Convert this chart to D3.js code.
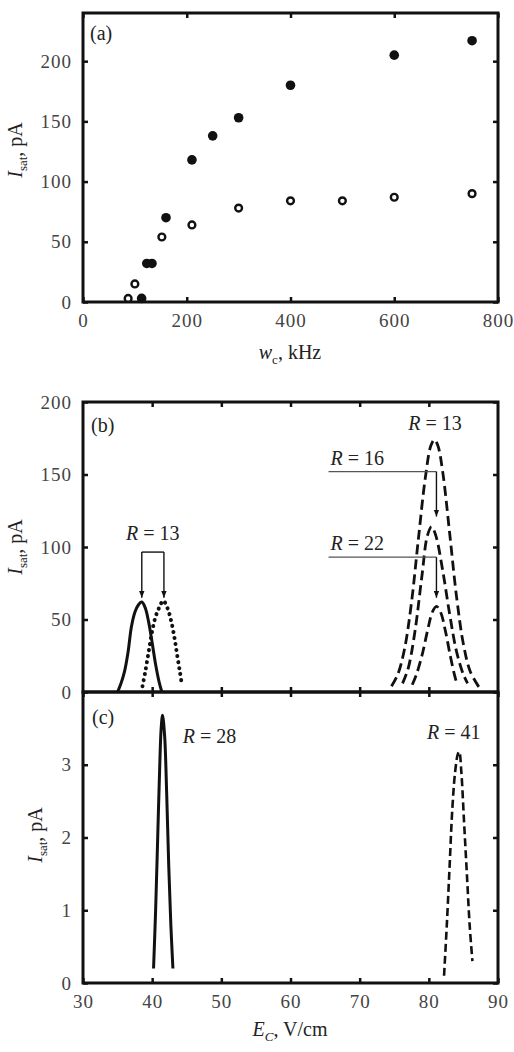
<!DOCTYPE html>
<html>
<head>
<meta charset="utf-8">
<script src="https://cdn.jsdelivr.net/npm/d3@7"></script>
<style>
  body { margin: 0; background: #fff; }
  svg text { font-family: "Liberation Serif", "Times New Roman", serif !important; fill: #222; }
</style>
</head>
<body>
<div id="chart"></div>
<script>
// panel (a): saturation current vs frequency
const freqFilled = [113, 123, 133, 160, 210, 250, 300, 400, 600, 750];
const isatFilled = [3, 32, 32, 70, 118, 138, 153, 180, 205, 217];
const freqOpen = [87, 100, 152, 210, 300, 400, 500, 600, 750];
const isatOpen = [3, 15, 54, 64, 78, 84, 84, 87, 90];
const aTicksX = [0, 200, 400, 600, 800];
const aTicksY = [0, 50, 100, 150, 200];

// panel (b): peaks vs field, pA
const solid13E = [35, 35.5, 36, 36.5, 37, 37.5, 38, 38.5, 39, 39.5, 40, 40.5, 41, 41.4];
const solid13I = [0, 6, 14, 27, 45, 55, 60, 62, 58, 48, 34, 19, 7, 0];
const dot13E = [38.6, 39, 39.5, 40, 40.5, 41, 41.6, 42.2, 42.7, 43.2, 43.6, 44, 44.3];
const dot13I = [4, 14, 28, 42, 52, 58, 63, 58, 50, 38, 26, 14, 5];
const dash13E = [74.6, 75.5, 76.5, 77.5, 78.5, 79.5, 80.3, 80.8, 81.3, 82, 83, 84, 85, 86, 87.3];
const dash13I = [4, 12, 30, 62, 106, 148, 170, 174, 170, 152, 110, 66, 33, 14, 3];
const dash16E = [76.2, 77, 78, 79, 79.8, 80.4, 81, 82, 83, 84, 85, 85.6];
const dash16I = [6, 16, 42, 80, 108, 114, 108, 84, 54, 28, 12, 6];
const dash22E = [77.6, 78.2, 79, 79.8, 80.5, 81.1, 81.7, 82.4, 83.1, 83.7, 84.1];
const dash22I = [5, 12, 25, 42, 55, 59, 55, 42, 25, 12, 5];
const bTicksY = [0, 50, 100, 150, 200];

// panel (c)
const solid28E = [40.2, 40.5, 40.8, 41.1, 41.3, 41.5, 41.8, 42.1, 42.4, 42.7, 43];
const solid28I = [0.2, 1.0, 2.0, 3.0, 3.5, 3.68, 3.4, 2.6, 1.6, 0.8, 0.2];
const dash41E = [82.2, 82.6, 83, 83.4, 83.8, 84.2, 84.4, 84.7, 85.1, 85.5, 85.9, 86.3];
const dash41I = [0.1, 0.8, 1.6, 2.4, 2.9, 3.15, 3.18, 2.9, 2.2, 1.5, 0.8, 0.3];
const cTicksY = [0, 1, 2, 3];
const eTicks = [30, 40, 50, 60, 70, 80, 90];

const W = 514, H = 1052;
const svg = d3.select("#chart").append("svg").attr("width", W).attr("height", H);

svg.append("defs").append("marker")
    .attr("id", "arr")
    .attr("viewBox", "0 0 10 10")
    .attr("refX", 10).attr("refY", 5)
    .attr("markerWidth", 7).attr("markerHeight", 8)
    .attr("markerUnits", "userSpaceOnUse")
    .attr("orient", "auto")
    .append("path").attr("d", "M0,1 L10,5 L0,9 Z").attr("fill", "#111");

const left = 83, right = 498;
const FS = 19;

function frame(x, y, xt, yt, opts) {
    const g = svg.append("g");
    const [y0, y1] = y.range();
    g.append("g").attr("transform", `translate(0,${y0})`)
        .call(d3.axisBottom(x).tickValues(xt).tickSize(-5).tickPadding(12)
            .tickFormat(opts.xLabels ? d3.format("d") : ""));
    g.append("g").attr("transform", `translate(0,${y1})`)
        .call(d3.axisTop(x).tickValues(xt).tickSize(-5).tickFormat(""));
    g.append("g").attr("transform", `translate(${left},0)`)
        .call(d3.axisLeft(y).tickValues(yt).tickSize(-5).tickPadding(11).tickFormat(d3.format("d")));
    g.append("g").attr("transform", `translate(${right},0)`)
        .call(d3.axisRight(y).tickValues(yt).tickSize(-5).tickFormat(""));
    g.selectAll(".domain").remove();
    g.selectAll(".tick line").attr("stroke", "#111").attr("stroke-width", 2.5);
    g.selectAll(".tick text").attr("font-size", FS).attr("letter-spacing", 1).style("fill", "#444");
    g.append("rect")
        .attr("x", left).attr("y", y1)
        .attr("width", right - left).attr("height", y0 - y1)
        .attr("fill", "none").attr("stroke", "#111").attr("stroke-width", 3);
    return g;
}

function yLabel(cx, cy) {
    const t = svg.append("text")
        .attr("transform", `translate(${cx},${cy}) rotate(-90)`)
        .attr("text-anchor", "middle").attr("font-size", 20);
    t.append("tspan").attr("font-style", "italic").text("I");
    t.append("tspan").attr("font-size", 13).attr("dy", 5).text("sat");
    t.append("tspan").attr("dy", -5).text(", pA");
}

function rLabel(x, y, val, anchor) {
    const t = svg.append("text").attr("x", x).attr("y", y)
        .attr("text-anchor", anchor || "middle").attr("font-size", 20);
    t.append("tspan").attr("font-style", "italic").text("R");
    t.append("tspan").text(" = " + val);
}

// ---------- panel (a)
const xa = d3.scaleLinear().domain([0, 800]).range([left, right]);
const ya = d3.scaleLinear().domain([0, 240]).range([302, 13]);
frame(xa, ya, aTicksX, aTicksY, { xLabels: true });

svg.append("g").selectAll("circle")
    .data(d3.zip(freqOpen, isatOpen)).join("circle")
    .attr("cx", d => xa(d[0])).attr("cy", d => ya(d[1]))
    .attr("r", 3.4).attr("fill", "#fff").attr("stroke", "#111").attr("stroke-width", 2.4);
svg.append("g").selectAll("circle")
    .data(d3.zip(freqFilled, isatFilled)).join("circle")
    .attr("cx", d => xa(d[0])).attr("cy", d => ya(d[1]))
    .attr("r", 4.8).attr("fill", "#111");

svg.append("text").attr("x", 90).attr("y", 40).attr("font-size", 20).text("(a)");
yLabel(22, 150);
const xla = svg.append("text").attr("x", 290).attr("y", 359)
    .attr("text-anchor", "middle").attr("font-size", 20);
xla.append("tspan").attr("font-style", "italic").text("w");
xla.append("tspan").attr("font-size", 13).attr("dy", 5).text("c");
xla.append("tspan").attr("dy", -5).text(", kHz");

// ---------- panel (b)
const xb = d3.scaleLinear().domain([30, 90]).range([left, right]);
const yb = d3.scaleLinear().domain([0, 200]).range([692, 402]);
frame(xb, yb, eTicks.slice(1, -1), bTicksY, { xLabels: false });

const lineB = d3.line().x(d => xb(d[0])).y(d => yb(d[1])).curve(d3.curveCatmullRom);
const pb = svg.append("g").attr("fill", "none").attr("stroke", "#111");
pb.append("path").datum(d3.zip(solid13E, solid13I))
    .attr("d", lineB).attr("stroke-width", 3);
pb.append("path").datum(d3.zip(dot13E, dot13I))
    .attr("d", lineB).attr("stroke-width", 4)
    .attr("stroke-linecap", "round").attr("stroke-dasharray", "0.1 6");
[[dash13E, dash13I], [dash16E, dash16I], [dash22E, dash22I]].forEach(s => {
    pb.append("path").datum(d3.zip(s[0], s[1]))
        .attr("d", lineB).attr("stroke-width", 2.8).attr("stroke-dasharray", "10 5");
});

svg.append("text").attr("x", 91).attr("y", 432).attr("font-size", 20).text("(b)");
yLabel(22, 547);

// R = 13 bracket on the left pair
const brY = 96.5, brTip = 65;
svg.append("path")
    .attr("d", `M${xb(38.5)},${yb(brY)} L${xb(41.7)},${yb(brY)}`)
    .attr("fill", "none").attr("stroke", "#111").attr("stroke-width", 1.4);
[38.5, 41.7].forEach(e => {
    svg.append("line").attr("x1", xb(e)).attr("x2", xb(e))
        .attr("y1", yb(brY)).attr("y2", yb(brTip))
        .attr("stroke", "#111").attr("stroke-width", 1.4).attr("marker-end", "url(#arr)");
});
rLabel(xb(40.1), yb(105), 13);

// R = 16 and R = 22 leaders
[[152, 121, 16], [93, 65, 22]].forEach(a => {
    svg.append("line").attr("x1", xb(65.5)).attr("x2", xb(81.1))
        .attr("y1", yb(a[0])).attr("y2", yb(a[0]))
        .attr("stroke", "#555").attr("stroke-width", 1.2);
    svg.append("line").attr("x1", xb(81.1)).attr("x2", xb(81.1))
        .attr("y1", yb(a[0])).attr("y2", yb(a[1]))
        .attr("stroke", "#111").attr("stroke-width", 1.4).attr("marker-end", "url(#arr)");
    rLabel(xb(65.8), yb(a[0]) - 7, a[2], "start");
});
rLabel(xb(80.9), yb(181), 13);

// ---------- panel (c)
const xc = d3.scaleLinear().domain([30, 90]).range([left, right]);
const yc = d3.scaleLinear().domain([0, 4]).range([983, 692]);
frame(xc, yc, eTicks, cTicksY, { xLabels: true });

const lineC = d3.line().x(d => xc(d[0])).y(d => yc(d[1])).curve(d3.curveCatmullRom);
svg.append("path").datum(d3.zip(solid28E, solid28I))
    .attr("d", lineC).attr("fill", "none").attr("stroke", "#111").attr("stroke-width", 3);
svg.append("path").datum(d3.zip(dash41E, dash41I))
    .attr("d", lineC).attr("fill", "none").attr("stroke", "#111")
    .attr("stroke-width", 2.6).attr("stroke-dasharray", "8 4");

svg.append("text").attr("x", 92).attr("y", 724).attr("font-size", 20).text("(c)");
rLabel(xc(48.3), yc(3.3), 28);
rLabel(xc(83.6), yc(3.35), 41);
yLabel(42, 835);
const xlc = svg.append("text").attr("x", 290).attr("y", 1036)
    .attr("text-anchor", "middle").attr("font-size", 20);
xlc.append("tspan").attr("font-style", "italic").text("E");
xlc.append("tspan").attr("font-size", 13).attr("font-style", "italic").attr("dy", 5).text("C");
xlc.append("tspan").attr("dy", -5).text(", V/cm");
</script>
</body>
</html>
